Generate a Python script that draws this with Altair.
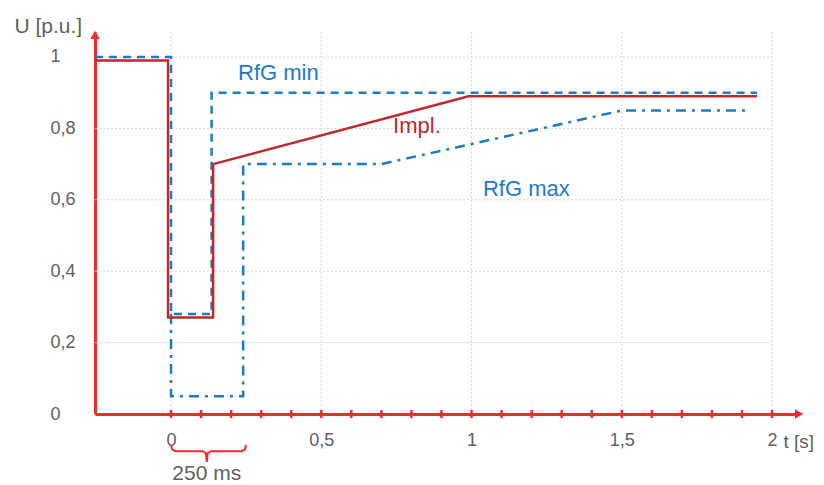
import altair as alt
import pandas as pd

# ---------------- data ----------------
impl_t = [-0.253, -0.01, -0.01, 0.14, 0.14, 0.99, 1.95]
impl_u = [0.99, 0.99, 0.27, 0.27, 0.70, 0.89, 0.89]

rfg_min_t = [-0.253, 0.0, 0.0, 0.135, 0.135, 1.95]
rfg_min_u = [1.0, 1.0, 0.28, 0.28, 0.90, 0.90]

rfg_max_t = [0.0, 0.0, 0.24, 0.24, 0.70, 1.50, 1.92]
rfg_max_u = [0.28, 0.05, 0.05, 0.70, 0.70, 0.85, 0.85]

x_label_values = [0, 0.5, 1, 1.5, 2]
y_label_values = [0, 0.2, 0.4, 0.6, 0.8, 1]
x_grid = [0, 0.5, 1, 1.5, 2]
y_grid = [0.2, 0.4, 0.6, 0.8, 1.0]
x_minor_ticks = [0.0, 0.1, 0.2, 0.3, 0.4, 0.5, 0.6, 0.7, 0.8, 0.9, 1.0,
                 1.1, 1.2, 1.3, 1.4, 1.5, 1.6, 1.7, 1.8, 1.9, 2.0]

series_labels = ["RfG min", "Impl.", "RfG max"]
series_label_t = [0.223, 0.739, 1.038]
series_label_u = [0.955, 0.808, 0.630]

brace_interval = [0.0, 0.25]
brace_text = "250 ms"

# ---------------- styles ----------------
X_MIN, X_MAX = -0.253, 2.083
Y_MIN, Y_MAX = 0.0, 1.07
AXIS_RED = "#f22a2a"
IMPL_RED = "#c0282d"
BLUE = "#1f7ac6"
GREY = "#606060"
GRID = "#d4d4d4"
FONT = "Liberation Sans"

xs = alt.Scale(domain=[X_MIN, X_MAX], nice=False, zero=False)
ys = alt.Scale(domain=[Y_MIN, Y_MAX], nice=False, zero=False)

x_axis = alt.Axis(
    values=x_label_values,
    labelExpr="replace(format(datum.value, '~g'), '.', ',')",
    ticks=False, grid=False,
    domainColor=AXIS_RED, domainWidth=3,
    labelFont=FONT, labelFontSize=18, labelColor=GREY,
    labelPadding=26, labelBaseline="middle", labelFlush=False, labelOverlap=False,
    title="t [s]", titleFont=FONT, titleFontSize=19, titleColor=GREY,
    titleFontWeight="normal", titleAngle=0, titleAlign="left",
    titleBaseline="middle", titleX=688, titleY=27,
)
y_axis = alt.Axis(
    values=y_label_values,
    labelExpr="replace(format(datum.value, '~g'), '.', ',')",
    ticks=False, grid=False,
    domainColor=AXIS_RED, domainWidth=3,
    labelFont=FONT, labelFontSize=18, labelColor=GREY,
    labelAlign="left", labelPadding=45, labelBaseline="middle",
    labelFlush=False, labelOverlap=False,
    title="U [p.u.]", titleFont=FONT, titleFontSize=21, titleColor=GREY,
    titleFontWeight="normal", titleAngle=0, titleAlign="left",
    titleBaseline="middle", titleX=-81, titleY=-6,
)

X = alt.X("t:Q", scale=xs, axis=x_axis)
Y = alt.Y("u:Q", scale=ys, axis=y_axis)

# ---------------- grid ----------------
gh = pd.DataFrame({"t": [X_MIN] * len(y_grid), "t2": [2.0] * len(y_grid), "u": y_grid})
grid_h = alt.Chart(gh).mark_rule(color=GRID, strokeWidth=1, strokeDash=[2, 2]).encode(
    x=X, x2="t2:Q", y=Y)
gv = pd.DataFrame({"t": x_grid, "u": [0.0] * len(x_grid), "u2": [Y_MAX] * len(x_grid)})
grid_v = alt.Chart(gv).mark_rule(color=GRID, strokeWidth=1, strokeDash=[2, 2]).encode(
    x=X, y=Y, y2="u2:Q")


def series(ts, us, **mark):
    df = pd.DataFrame({"t": ts, "u": us, "i": list(range(len(ts)))})
    return alt.Chart(df).mark_line(**mark).encode(x=X, y=Y, order="i:Q")


rfg_max = series(rfg_max_t, rfg_max_u, color=BLUE, strokeWidth=2.5, strokeDash=[10, 6, 3, 6])
rfg_min = series(rfg_min_t, rfg_min_u, color=BLUE, strokeWidth=2.5, strokeDash=[8, 6])
impl = series(impl_t, impl_u, color=IMPL_RED, strokeWidth=2.5)

# ---------------- axis decorations ----------------
tk = pd.DataFrame({"t": x_minor_ticks, "u": [0.0] * len(x_minor_ticks)})
ticks = alt.Chart(tk).mark_tick(orient="vertical", size=8, thickness=2.5,
                                color=AXIS_RED, opacity=1).encode(x=X, y=Y)

ar = pd.DataFrame({"t": [2.09, X_MIN], "u": [0.0, 1.062],
                   "shape": ["triangle-right", "triangle-up"]})
arrows = alt.Chart(ar).mark_point(filled=True, size=90, opacity=1, color=AXIS_RED).encode(
    x=X, y=Y, shape=alt.Shape("shape:N", scale=None))

# ---------------- series labels ----------------
lab = pd.DataFrame({"label": series_labels, "t": series_label_t, "u": series_label_u,
                    "c": [BLUE, IMPL_RED, BLUE]})
labels = alt.Chart(lab).mark_text(align="left", baseline="middle", font=FONT,
                                  fontSize=22).encode(
    x=X, y=Y, text="label:N", color=alt.Color("c:N", scale=None))

# ---------------- brace under 0 .. 250 ms ----------------
a, b = brace_interval
m = (a + b) / 2 - 0.006
brace_pts_t = [a, a + 0.004, a + 0.015, m - 0.014, m - 0.003, m, m + 0.003, m + 0.014,
               b - 0.015, b - 0.004, b]
brace_pts_u = [-0.087, -0.099, -0.104, -0.104, -0.110, -0.134, -0.110, -0.104,
               -0.104, -0.099, -0.087]
brace = series(brace_pts_t, brace_pts_u, color=AXIS_RED, strokeWidth=2)

bt = pd.DataFrame({"t": [m], "u": [-0.168], "label": [brace_text]})
brace_label = alt.Chart(bt).mark_text(align="center", baseline="middle", font=FONT,
                                      fontSize=21, color=GREY).encode(x=X, y=Y, text="label:N")

chart = alt.layer(
    grid_h, grid_v, rfg_max, rfg_min, impl, ticks, arrows, labels, brace, brace_label
).properties(
    width=702, height=382,
    padding={"left": 87, "top": 24, "right": 19, "bottom": 80},
    autosize=alt.AutoSizeParams(type="none"),
    background="white",
).configure_view(stroke=None)

chart.save("out.html", embed_options={"renderer": "svg", "actions": False})
